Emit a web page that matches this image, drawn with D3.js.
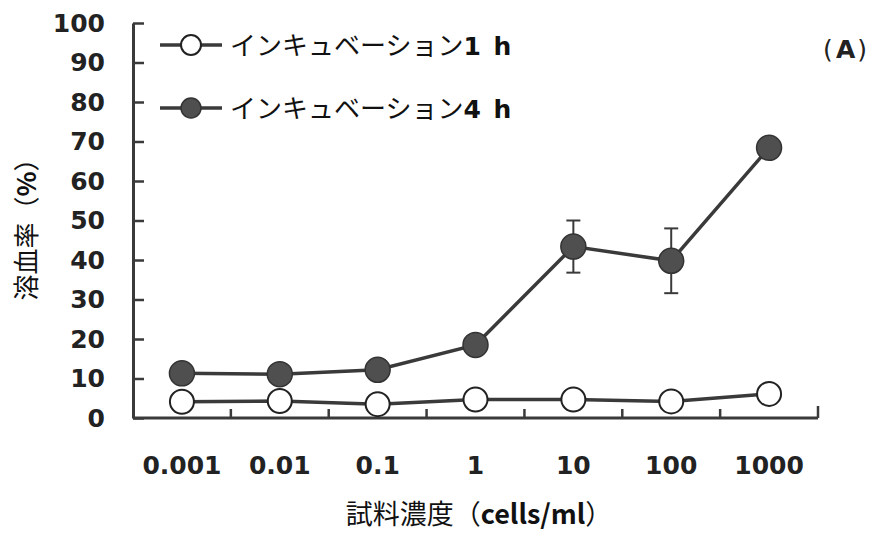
<!DOCTYPE html>
<html><head><meta charset="utf-8">
<script src="https://cdn.jsdelivr.net/npm/d3@7"></script>
<style>body{margin:0;background:#fff}</style>
</head><body>
<svg id="c" width="869" height="534"></svg>
<script>
const categories = ["0.001","0.01","0.1","1","10","100","1000"];
const hemolysis1h = [4.1, 4.3, 3.5, 4.7, 4.7, 4.2, 6.1];
const hemolysis4h = [11.3, 11.1, 12.2, 18.5, 43.4, 39.8, 68.4];
const error4h = [0, 0, 0, 0, 6.6, 8.2, 0];
const yTicks = [0,10,20,30,40,50,60,70,80,90,100];
const seriesNames = [["インキュベーション", "1 h"], ["インキュベーション", "4 h"]];

const svg = d3.select("#c");
const L = 133, R = 818, T = 23, B = 418;
const x = d3.scaleBand().domain(categories).range([L, R]);
const y = d3.scaleLinear().domain([0, 100]).range([B, T]);
const dark = "#3a3a3a", fillDark = "#4f4f4f";
const numFont = "'DejaVu Sans', Verdana, sans-serif";
const jpFont = "'Noto Sans CJK JP', sans-serif";

// y axis
const yAxis = d3.axisLeft(y).tickValues(yTicks).tickSize(-11).tickPadding(28).tickSizeOuter(0);
const gy = svg.append("g").attr("transform", `translate(${L},0)`).call(yAxis);
gy.select(".domain").attr("stroke", dark).attr("stroke-width", 3);
gy.selectAll(".tick line").attr("stroke", dark).attr("stroke-width", 2.5);
gy.selectAll(".tick text").attr("font-family", numFont).attr("font-weight", "bold")
  .attr("font-size", 25).attr("fill", "#222");

// x axis
const gx = svg.append("g").attr("transform", `translate(0,${B})`);
gx.append("line").attr("x1", L).attr("x2", R).attr("stroke", dark).attr("stroke-width", 3);
const bounds = categories.map((c) => x(c) + x.bandwidth());
gx.selectAll("line.tk").data(bounds).join("line").attr("class","tk")
  .attr("x1", d => d).attr("x2", d => d).attr("y1", 0).attr("y2", d => d === R ? -12 : -9)
  .attr("stroke", dark).attr("stroke-width", 2.5);
gx.selectAll("text").data(categories).join("text")
  .attr("x", d => x(d) + x.bandwidth()/2).attr("y", 56)
  .attr("text-anchor", "middle").attr("font-family", numFont).attr("font-weight", "bold")
  .attr("font-size", 25).attr("fill", "#222").text(d => d);

// axis titles
const yt = svg.append("text").attr("transform", "translate(36,223) rotate(-90)")
  .attr("text-anchor", "middle").attr("font-family", jpFont).attr("font-size", 26)
  .attr("fill", "#111");
yt.append("tspan").text("溶血率（");
yt.append("tspan").attr("font-weight", "bold").text("%");
yt.append("tspan").text("）");
const xt = svg.append("text").attr("x", 479).attr("y", 524)
  .attr("text-anchor", "middle").attr("font-family", jpFont).attr("font-size", 27)
  .attr("fill", "#111");
xt.append("tspan").text("試料濃度（");
xt.append("tspan").attr("font-weight", "bold").text("cells/ml");
xt.append("tspan").text("）");

const at = svg.append("text").attr("x", 867).attr("y", 58).attr("text-anchor", "end")
  .attr("font-family", numFont).attr("font-size", 25).attr("fill", "#222");
at.append("tspan").text("(");
at.append("tspan").attr("font-weight", "bold").attr("dx", 3).text("A");
at.append("tspan").attr("dx", 2).text(")");

const cx = (d, i) => x(categories[i]) + x.bandwidth()/2;
const line = d3.line().x((d, i) => cx(d, i)).y(d => y(d));

// error bars
const eg = svg.append("g");
hemolysis4h.forEach((v, i) => {
  if (!error4h[i]) return;
  const xc = cx(v, i), y1 = y(v + error4h[i]), y2 = y(v - error4h[i]);
  eg.append("line").attr("x1", xc).attr("x2", xc).attr("y1", y1).attr("y2", y2).attr("stroke", dark).attr("stroke-width", 2);
  [y1, y2].forEach(yy => eg.append("line").attr("x1", xc-7).attr("x2", xc+7).attr("y1", yy).attr("y2", yy).attr("stroke", dark).attr("stroke-width", 2));
});

// series
svg.append("path").datum(hemolysis1h).attr("d", line).attr("fill", "none").attr("stroke", dark).attr("stroke-width", 3.5);
svg.append("path").datum(hemolysis4h).attr("d", line).attr("fill", "none").attr("stroke", dark).attr("stroke-width", 3.5);
svg.selectAll("circle.s1").data(hemolysis1h).join("circle").attr("class","s1")
  .attr("cx", (d,i) => cx(d,i)).attr("cy", d => y(d)).attr("r", 12)
  .attr("fill", "#fff").attr("stroke", "#222").attr("stroke-width", 2);
svg.selectAll("circle.s4").data(hemolysis4h).join("circle").attr("class","s4")
  .attr("cx", (d,i) => cx(d,i)).attr("cy", d => y(d)).attr("r", 12.5)
  .attr("fill", fillDark).attr("stroke", "#333").attr("stroke-width", 1.5);

// legend
const lg = svg.append("g");
[[45, "#fff", "#222", 2], [108, fillDark, "#333", 1.5]].forEach(([yy, f, s, sw], i) => {
  lg.append("line").attr("x1", 160).attr("x2", 222).attr("y1", yy).attr("y2", yy).attr("stroke", dark).attr("stroke-width", 3.5);
  lg.append("circle").attr("cx", 191).attr("cy", yy).attr("r", 10).attr("fill", f).attr("stroke", s).attr("stroke-width", sw);
  const t = lg.append("text").attr("x", 230).attr("y", yy + 10).attr("font-family", jpFont).attr("font-size", 26)
    .attr("fill", "#111");
  t.append("tspan").text(seriesNames[i][0]);
  t.append("tspan").attr("font-family", numFont).attr("font-weight", "bold").attr("font-size", 25).attr("word-spacing", 4).text(seriesNames[i][1]);
});
</script>
</body></html>
